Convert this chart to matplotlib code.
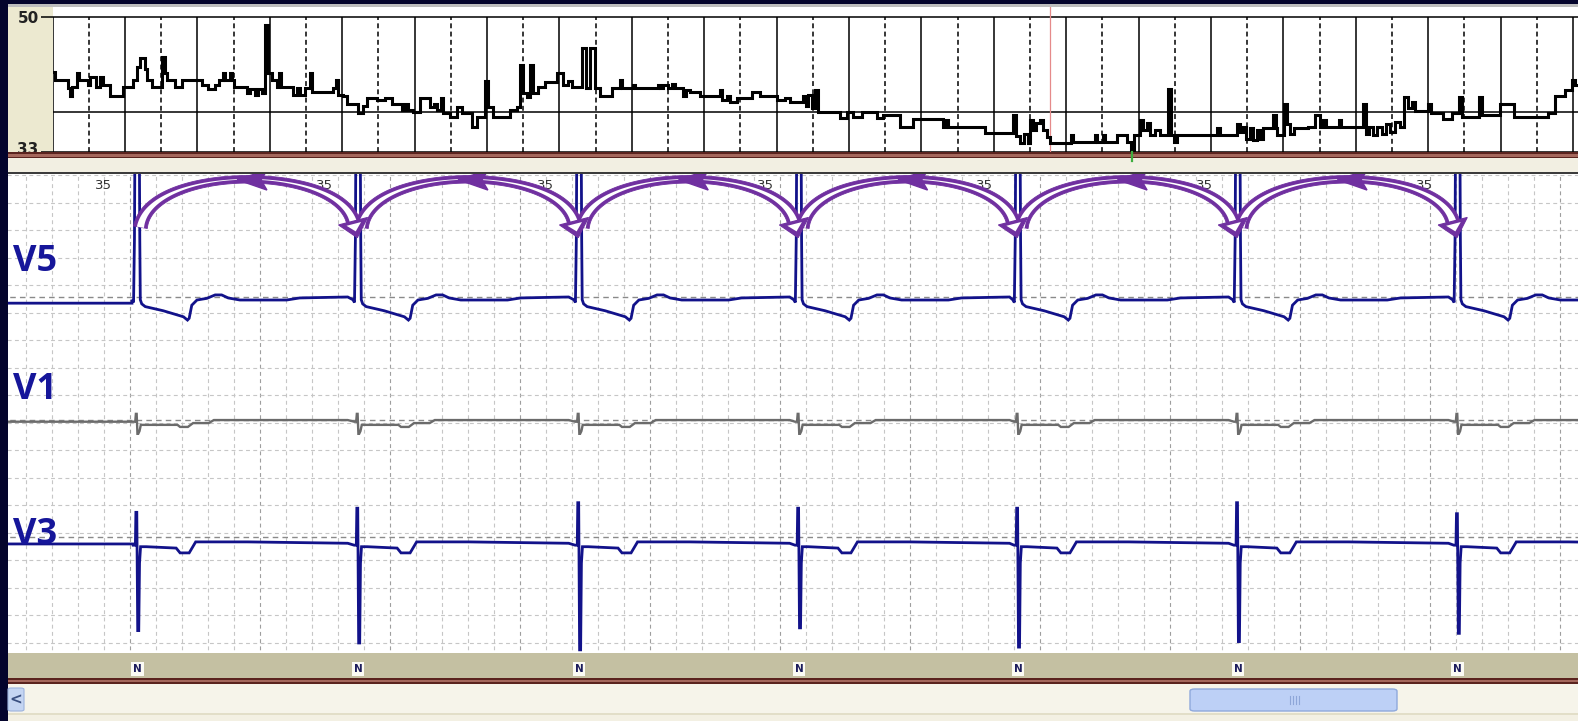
import numpy as np
import matplotlib
matplotlib.use("Agg")
import matplotlib.pyplot as plt
from matplotlib.patches import Rectangle, Polygon, FancyBboxPatch
from matplotlib.lines import Line2D
from matplotlib.transforms import blended_transform_factory, ScaledTranslation

# ---------------- data ----------------
# heart-rate trend (top strip): time in hours, rate in bpm
TREND_HOURS = [0.00, 0.03, 0.21, 0.24, 0.27, 0.34, 0.36, 0.49, 0.52, 0.60, 0.65, 0.70, 0.79, 0.97,
               1.11, 1.17, 1.21, 1.28, 1.30, 1.37, 1.51, 1.55, 1.58, 1.69, 1.79, 2.06, 2.15, 2.24,
               2.30, 2.35, 2.38, 2.45, 2.48, 2.51, 2.69, 2.73, 2.80, 2.84, 2.89, 2.93, 2.98, 3.03,
               3.10, 3.13, 3.16, 3.32, 3.38, 3.42, 3.49, 3.56, 3.58, 3.87, 3.91, 3.94, 4.01, 4.07,
               4.22, 4.29, 4.34, 4.48, 4.59, 4.69, 4.83, 4.87, 4.91, 4.98, 5.07, 5.21, 5.27, 5.31,
               5.36, 5.39, 5.49, 5.59, 5.65, 5.79, 5.86, 5.97, 6.01, 6.08, 6.32, 6.41, 6.46, 6.50,
               6.55, 6.59, 6.64, 6.70, 6.80, 6.97, 7.05, 7.12, 7.17, 7.31, 7.37, 7.42, 7.49, 7.56,
               7.73, 7.84, 7.86, 8.02, 8.04, 8.36, 8.39, 8.43, 8.50, 8.56, 8.60, 8.71, 8.75, 8.80,
               8.94, 9.22, 9.25, 9.31, 9.36, 9.45, 9.66, 9.77, 9.87, 10.01, 10.12, 10.19, 10.36,
               10.41, 10.43, 10.49, 10.53, 10.57, 10.88, 10.97, 11.06, 11.18, 11.39, 11.47, 11.70,
               11.88, 12.30, 12.34, 12.37, 12.49, 12.88, 13.26, 13.31, 13.36, 13.42, 13.47, 13.50,
               13.54, 13.58, 13.64, 13.68, 13.73, 13.78, 14.07, 14.09, 14.40, 14.42, 14.51, 14.54,
               14.70, 14.84, 14.89, 14.94, 15.02, 15.06, 15.12, 15.16, 15.23, 15.30, 15.41, 15.45,
               15.49, 15.53, 16.08, 16.12, 16.36, 16.40, 16.44, 16.48, 16.54, 16.58, 16.64, 16.68,
               16.72, 16.86, 16.90, 16.91, 17.01, 17.05, 17.09, 17.15, 17.34, 17.44, 17.51, 17.55,
               17.59, 17.77, 17.80, 18.10, 18.14, 18.18, 18.24, 18.29, 18.36, 18.42, 18.47, 18.54,
               18.61, 18.67, 18.72, 18.78, 18.82, 19.00, 19.04, 19.20, 19.33, 19.43, 19.47, 19.70,
               19.74, 19.99, 20.19, 20.66, 20.75, 20.89, 20.99, 21.03, 21.07]
TREND_HR = [43.1, 42.1, 41.0, 40.0, 41.2, 42.9, 42.1, 41.4, 42.5, 41.2, 42.5, 41.4, 40.0, 41.2,
            42.1, 43.7, 44.8, 43.5, 42.1, 41.2, 45.0, 42.9, 42.1, 41.2, 42.1, 41.4, 40.9, 41.5,
            42.1, 42.9, 42.1, 42.9, 42.1, 41.2, 40.4, 40.9, 40.2, 40.9, 40.4, 49.0, 42.9, 42.1,
            41.2, 42.9, 41.2, 40.2, 41.0, 40.2, 41.0, 42.9, 40.6, 41.0, 42.1, 40.2, 40.0, 39.1,
            37.9, 38.8, 39.8, 39.6, 39.8, 39.1, 38.3, 39.1, 38.3, 38.1, 39.8, 38.7, 39.1, 38.3,
            39.8, 37.9, 37.4, 38.7, 37.9, 36.2, 37.4, 41.9, 38.7, 37.4, 38.3, 38.7, 44.0, 40.4,
            39.9, 44.0, 40.4, 41.2, 41.8, 42.9, 41.5, 41.9, 41.2, 46.1, 41.0, 46.1, 41.0, 40.1,
            41.0, 42.1, 41.0, 41.5, 41.0, 41.5, 41.0, 41.5, 41.0, 41.6, 41.0, 40.1, 40.8, 40.6,
            40.1, 40.8, 39.5, 40.0, 39.3, 39.8, 40.5, 40.0, 40.1, 39.5, 39.8, 39.3, 40.0,
            38.8, 40.2, 38.6, 40.8, 38.1, 37.3, 38.1, 37.4, 38.1, 37.3, 37.7, 36.2,
            37.2, 36.2, 37.0, 36.2, 36.1, 35.4, 37.7, 35.0, 34.1, 35.3, 34.1, 37.0,
            35.8, 36.6, 37.0, 35.8, 34.9, 34.1, 35.1, 34.2, 35.1, 34.2, 35.1, 34.2,
            35.1, 34.2, 33.2, 35.1, 37.0, 35.8, 36.6, 35.1, 35.8, 35.1, 40.9, 35.1,
            34.2, 35.1, 36.0, 35.1, 36.5, 35.5, 36.2, 34.6, 36.0, 34.5, 35.8, 34.6,
            36.0, 37.7, 36.0, 35.1, 39.1, 36.5, 35.3, 36.0, 36.2, 37.7, 36.2, 37.0,
            36.2, 37.0, 36.2, 39.1, 35.3, 36.2, 35.1, 36.2, 35.3, 36.5, 35.5, 36.8,
            36.2, 39.9, 38.5, 39.3, 38.2, 39.1, 37.9, 37.2, 37.9, 39.9, 37.4, 39.9,
            37.6, 39.1, 37.4, 37.9, 40.0, 40.8, 42.1, 41.5, 41.5]
TREND_LIMITS = [33, 50]
TREND_REF = 38
TREND_CURSOR = 13.77
TREND_EVENT = 14.91

# ECG strip: R-peak times (s), rate labels, beat codes
BEAT_TIMES = [1.054, 2.754, 4.454, 6.146, 7.831, 9.523, 11.215]
BEAT_HR = ["35", "35", "35", "35", "35", "35", "35"]
BEAT_CODES = ["N", "N", "N", "N", "N", "N", "N"]
LEAD_NAMES = ["V5", "V1", "V3"]

# beat shapes: offset from R peak (s), amplitude (mV)
V5_DT = [-0.040, -0.028, -0.021, -0.015, 0.014, 0.020, 0.024, 0.035, 0.062, 0.20, 0.356,
         0.387, 0.40, 0.42, 0.46, 0.536, 0.60, 0.65, 0.70, 0.79, 1.15, 1.25, 1.62]
V5_MV = [-0.02, -0.04, 0.42, 1.60, 1.60, 0.42, -0.02, -0.05, -0.07, -0.10, -0.144,
         -0.168, -0.155, -0.06, -0.022, -0.01, 0.015, 0.015, -0.007, -0.022, -0.022, -0.007, 0.0]
V5_LEAD = -0.045

V1_DT = [-0.030, -0.015, -0.010, -0.004, 0.002, 0.008, 0.018, 0.028, 0.31, 0.33, 0.39,
         0.43, 0.55, 0.59, 1.62]
V1_MV = [-0.012, -0.012, 0.045, 0.045, -0.10, -0.10, -0.08, -0.035, -0.035, -0.05, -0.05,
         -0.022, -0.022, 0.0, 0.0]
V1_LEAD = -0.012

V3_DT = [-0.030, -0.014, -0.010, -0.003, 0.004, 0.012, 0.018, 0.026, 0.07, 0.30, 0.33,
         0.40, 0.45, 0.85, 1.62]
V3_MV = [-0.059, -0.059, "R", "R", "S", "S", -0.19, -0.07, -0.07, -0.08, -0.115,
         -0.115, -0.035, -0.035, -0.045]
V3_R = [0.18, 0.21, 0.25, 0.21, 0.21, 0.25, 0.17]
V3_S = [-0.68, -0.77, -0.82, -0.66, -0.80, -0.76, -0.70]
V3_LEAD = -0.05

# ---------------- figure ----------------
W, H, DPI = 1578, 721, 100
fig = plt.figure(figsize=(W / DPI, H / DPI), dpi=DPI)
fig.patch.set_facecolor("#04042c")


def rect(x0, y0, x1, y1, color, z=-1, **kw):
    r = Rectangle((x0 / W, 1 - y1 / H), (x1 - x0) / W, (y1 - y0) / H,
                  transform=fig.transFigure, facecolor=color, edgecolor="none",
                  zorder=z, **kw)
    fig.patches.append(r)
    return r


def axes_px(x0, y0, x1, y1):
    return fig.add_axes([x0 / W, 1 - y1 / H, (x1 - x0) / W, (y1 - y0) / H])


# static window chrome
rect(8, 4, W, 7, "#bdbdbd")
rect(8, 7, 53, 152, "#ece9d0")
rect(8, 152, W, 158, "#5a231e", z=5)
rect(8, 153.5, W, 156.5, "#a4675c", z=5)
rect(8, 158, W, 172, "#f2efe2", z=5)
rect(8, 171.5, W, 173.5, "#3c3c3c", z=5)
rect(8, 653, W, 678, "#c4c0a2")
rect(8, 678, W, 683.5, "#5a231e")
rect(8, 679.5, W, 682, "#a4675c")
rect(8, 683.5, W, 713, "#f6f4ea")
rect(8, 713, W, 715, "#e2dec8")
rect(8, 715, W, H, "#f3f0e3")

thumb = FancyBboxPatch((1190 / W, 1 - 711 / H), 207 / W, 22 / H,
                       boxstyle="round,pad=0,rounding_size=0.003",
                       transform=fig.transFigure, facecolor="#bdd0f6",
                       edgecolor="#8fa9dc", lw=1.0, zorder=2)
fig.patches.append(thumb)
for gx in (1290, 1293, 1296, 1299):
    fig.add_artist(Line2D([gx / W, gx / W], [1 - 704 / H, 1 - 696 / H],
                          transform=fig.transFigure, color="#8ea6d8", lw=0.8, zorder=3))
btn = FancyBboxPatch((8 / W, 1 - 711 / H), 16 / W, 23 / H,
                     boxstyle="round,pad=0,rounding_size=0.002",
                     transform=fig.transFigure, facecolor="#c5d5f2",
                     edgecolor="#9db3de", lw=0.8, zorder=2)
fig.patches.append(btn)
fig.text(16 / W, 1 - 699.5 / H, "<", ha="center", va="center", fontsize=11,
         fontweight="bold", color="#3a4f80", zorder=3)

# ---------------- trend strip ----------------
ax_t = axes_px(52.6, 7, W, 152)
ax_t.set_facecolor("white")
ax_t.set_xlim(0, 21.07)
ax_t.set_ylim(TREND_LIMITS[0], TREND_LIMITS[1] + 1.26)
for s in ax_t.spines.values():
    s.set_visible(False)
ax_t.vlines(np.arange(0, 22), TREND_LIMITS[0], TREND_LIMITS[1], color="black", lw=1.1)
ax_t.vlines(np.arange(0.5, 21.5, 1.0), TREND_LIMITS[0], TREND_LIMITS[1], color="black",
            lw=1.1, linestyles=(0, (3.2, 2.2)))
ax_t.hlines([TREND_LIMITS[1], TREND_REF, TREND_LIMITS[0]], 0, 21.07, color="black", lw=1.1)
ax_t.axvline(TREND_CURSOR, color="#e58a8a", lw=0.9)
ax_t.step(TREND_HOURS, TREND_HR, where="post", color="black", lw=2.2,
          solid_joinstyle="miter")
ax_t.set_xticks([])
ax_t.set_yticks(TREND_LIMITS)
ax_t.set_yticklabels([str(v) for v in TREND_LIMITS], fontsize=11, fontweight="bold",
                     color="#222222")
ax_t.tick_params(axis="y", length=8.5, width=1.1, pad=1.5, color="black")
lbl33 = ax_t.get_yticklabels()[0]
lbl33.set_transform(lbl33.get_transform() + ScaledTranslation(0, 4 / DPI, fig.dpi_scale_trans))
ev_tr = blended_transform_factory(ax_t.transData, fig.transFigure)
fig.add_artist(Line2D([TREND_EVENT, TREND_EVENT], [1 - 152 / H, 1 - 161 / H],
                      transform=ev_tr, color="#3fae3f", lw=1.6, zorder=7))

# ---------------- ECG strip ----------------
ax = axes_px(8, 173.5, W, 653)
ax.set_facecolor("white")
ax.set_xlim(0.06, 12.14)
ax.set_ylim(-0.076, 3.411)
for s in ax.spines.values():
    s.set_visible(False)
ax.set_xticks([])
ax.set_yticks([])

minor_x = [v for v in np.arange(0.2, 12.2, 0.2) if abs(v - round(v)) > 0.05]
ax.vlines(minor_x, -1, 4, color="#c6c6c6", lw=0.8, linestyles=(0, (3.5, 3)), zorder=1)
ax.vlines(np.arange(1, 13), -1, 4, color="#9e9e9e", lw=0.8, linestyles=(0, (3.5, 3)), zorder=1)
ax.hlines(np.arange(0, 3.5, 0.2), 0, 13, color="#c6c6c6", lw=0.8,
          linestyles=(0, (3.5, 3)), zorder=1)

BASE = {"V5": 2.513, "V1": 1.618, "V3": 0.767}
ax.hlines(list(BASE.values()), 0, 13, color="#8a8a8a", lw=1.0,
          linestyles=(0, (4, 3)), zorder=1)


def build(dt, mv, lead, base, r=None, s=None):
    ts = [ax.get_xlim()[0], BEAT_TIMES[0] + dt[0]]
    vs = [lead, lead]
    for i, tb in enumerate(BEAT_TIMES):
        for d, m in zip(dt, mv):
            if m == "R":
                m = r[i]
            elif m == "S":
                m = s[i]
            ts.append(tb + d)
            vs.append(m)
    return np.array(ts), base + np.array(vs, dtype=float)


t5, y5 = build(V5_DT, V5_MV, V5_LEAD, BASE["V5"])
t1, y1 = build(V1_DT, V1_MV, V1_LEAD, BASE["V1"])
t3, y3 = build(V3_DT, V3_MV, V3_LEAD, BASE["V3"], V3_R, V3_S)
ax.plot(t5, y5, color="#12128a", lw=2.0, zorder=3, solid_joinstyle="miter")
ax.plot(t1, y1, color="#6b6b6b", lw=1.7, zorder=3, solid_joinstyle="miter")
ax.plot(t3, y3, color="#12128a", lw=2.0, zorder=3, solid_joinstyle="miter")

label_tr = blended_transform_factory(ax.transAxes, ax.transData)
for name, dy in zip(LEAD_NAMES, [0.255, 0.218, 0.015]):
    ax.text(0.003, BASE[name] + dy, name, transform=label_tr, ha="left", va="center",
            fontsize=26, fontweight="bold", color="#16169a", zorder=6,
            family=["Open Sans", "DejaVu Sans"])

for tb, hr in zip(BEAT_TIMES, BEAT_HR):
    ax.text(tb - 0.258, 3.327, hr, ha="center", va="center", fontsize=9.5,
            color="#333333", zorder=4)

code_tr = blended_transform_factory(ax.transData, fig.transFigure)
for tb, code in zip(BEAT_TIMES, BEAT_CODES):
    fig.text(tb, 1 - 669 / H, code, transform=code_tr, ha="center", va="center",
             fontsize=7.5, fontweight="bold", color="#1c1c5c", zorder=6,
             bbox=dict(facecolor="#fbfbf4", edgecolor="none", pad=1.4))

# ---------------- purple curved arrows between beats ----------------
PURPLE = "#7030a0"
fig.canvas.draw()
inv = ax.transData.inverted()


def bez(p0, p1, p2, p3, n=120):
    u = np.linspace(0, 1, n)[:, None]
    return ((1 - u) ** 3) * p0 + 3 * ((1 - u) ** 2) * u * p1 + 3 * (1 - u) * u ** 2 * p2 + u ** 3 * p3


def band_poly(d, nrm, half):
    return np.vstack([d + nrm * half[:, None], (d - nrm * half[:, None])[::-1]])


for tl, tr in zip(BEAT_TIMES[:-1], BEAT_TIMES[1:]):
    P = [np.array(p) for p in [(tl + 0.025, 3.02), (tl + 0.10, 3.48),
                               (tr - 0.14, 3.48), (tr - 0.035, 3.05)]]
    pts = bez(*P)
    d = ax.transData.transform(pts)
    tan = np.gradient(d, axis=0)
    tan /= np.linalg.norm(tan, axis=1)[:, None]
    nrm = np.column_stack([-tan[:, 1], tan[:, 0]])
    u = np.linspace(0, 1, len(d))
    half = (14.0 - 6.5 * np.sin(np.pi * u)) / 2.0
    inner = np.clip(half - 3.4, 0.0, None)
    ax.add_patch(Polygon(inv.transform(band_poly(d, nrm, half)), closed=True,
                         facecolor=PURPLE, edgecolor=PURPLE, lw=0.6, zorder=7,
                         clip_on=False))
    keep = inner > 0.05
    for seg in (np.where(keep & (u < 0.5))[0], np.where(keep & (u > 0.5))[0]):
        if len(seg) > 1:
            ax.add_patch(Polygon(inv.transform(band_poly(d[seg], nrm[seg], inner[seg])),
                                 closed=True, facecolor="white", edgecolor="none",
                                 zorder=8, clip_on=False))
    # hollow arrowhead at the end (pointing down into the next beat)
    te = tan[-1]
    ne = nrm[-1]
    base = d[-1] - te * 2
    tip = base + te * 17
    outer = np.array([base + ne * 15, tip, base - ne * 15])
    ax.add_patch(Polygon(inv.transform(outer), closed=True, facecolor=PURPLE,
                         edgecolor=PURPLE, lw=0.8, zorder=9, clip_on=False,
                         joinstyle="miter"))
    inner_head = np.array([base + te * 2.8 + ne * 7.5, base + te * 10.5,
                           base + te * 2.8 - ne * 7.5])
    ax.add_patch(Polygon(inv.transform(inner_head), closed=True, facecolor="white",
                         edgecolor="none", zorder=10, clip_on=False))
    # arrowhead at the apex pointing back to the left
    k_tip, k_base = 55, 68
    tp = d[k_tip]
    bc = d[k_base]
    dirv = (tp - bc) / np.linalg.norm(tp - bc)
    nv = np.array([-dirv[1], dirv[0]])
    mid_head = np.array([tp - dirv * 3, bc + nv * 10, bc + dirv * 6, bc - nv * 10])
    ax.add_patch(Polygon(inv.transform(mid_head), closed=True, facecolor=PURPLE,
                         edgecolor=PURPLE, lw=1.0, zorder=9, clip_on=False))

fig.savefig("out.png", dpi=DPI, facecolor=fig.get_facecolor())
